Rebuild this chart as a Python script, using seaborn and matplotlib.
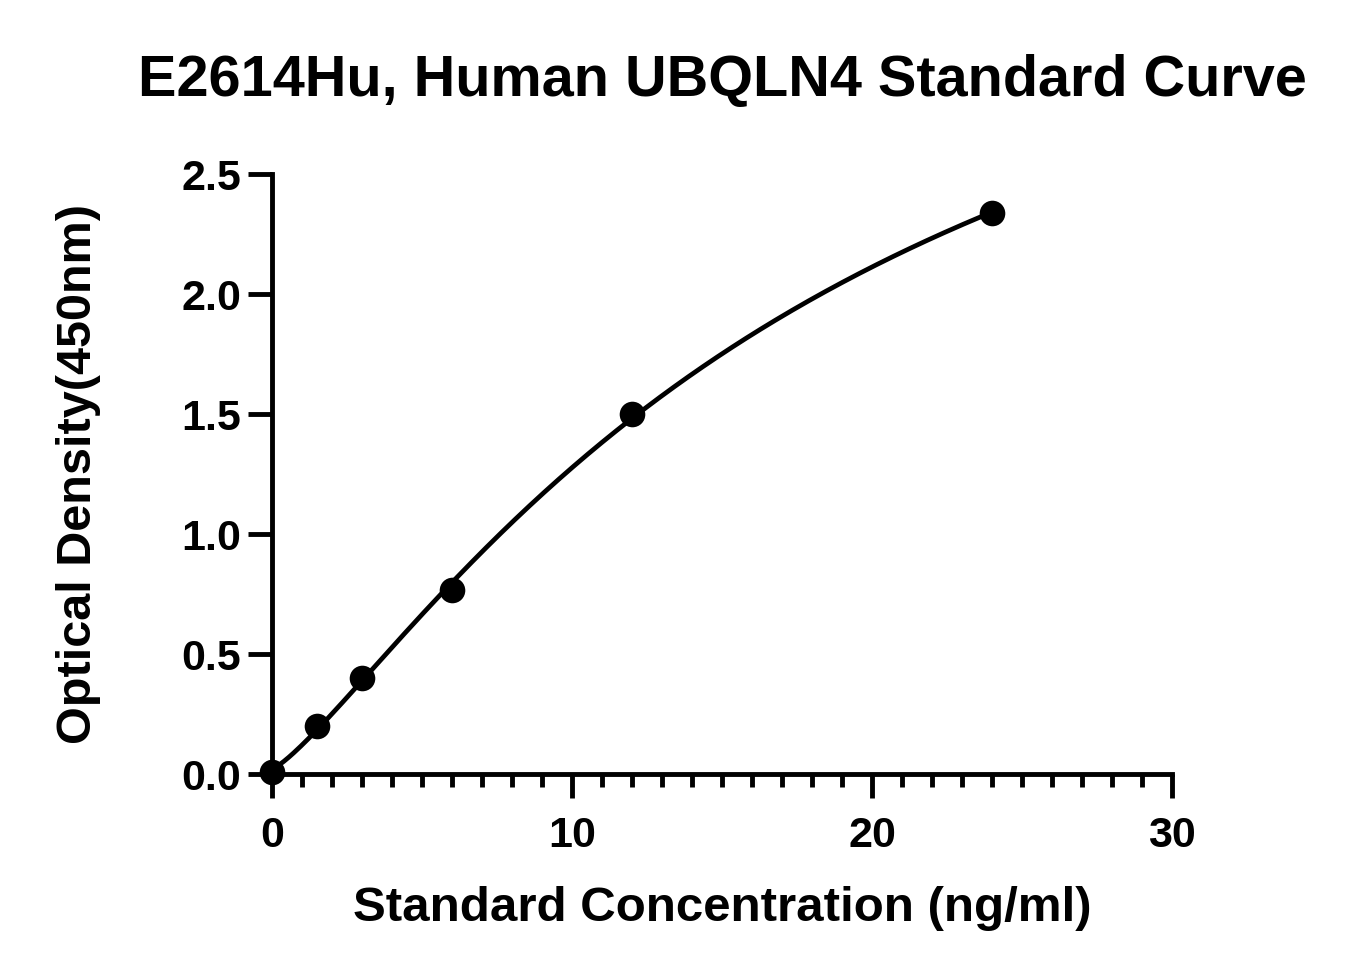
import numpy as np
import pandas as pd
import matplotlib
matplotlib.use("Agg")
import matplotlib.pyplot as plt
import seaborn as sns
from matplotlib.ticker import MultipleLocator

concentration = [0, 1.5, 3, 6, 12, 24]
od_450 = [0.01, 0.20, 0.40, 0.767, 1.50, 2.337]
title = "E2614Hu, Human UBQLN4 Standard Curve"
xlabel = "Standard Concentration (ng/ml)"
ylabel = "Optical Density(450nm)"

sns.set_theme(style="ticks")
plt.rcParams['font.family'] = ['Liberation Sans', 'DejaVu Sans']
plt.rcParams['font.weight'] = 'bold'

df = pd.DataFrame({"conc": concentration, "od": od_450})

# 4PL fit via simple Levenberg-Marquardt
x = np.array(concentration, float)
y = np.array(od_450, float)

def f4(p, xx):
    a, b, c, d = p
    return d + (a - d) / (1 + (np.maximum(xx, 1e-9) / c) ** b)

p = np.array([0.0, 1.2, 20.0, 4.0])
lam = 1e-2
def sse(p):
    return np.sum((f4(p, x) - y) ** 2)
for _ in range(2000):
    r = f4(p, x) - y
    J = np.zeros((len(x), 4))
    for k in range(4):
        dp = np.zeros(4); dp[k] = 1e-6 * max(1, abs(p[k]))
        J[:, k] = (f4(p + dp, x) - f4(p, x)) / dp[k]
    A = J.T @ J
    g = J.T @ r
    step = np.linalg.solve(A + lam * np.diag(np.diag(A) + 1e-12), -g)
    pn = p + step
    if pn[2] > 0 and np.all(np.isfinite(pn)) and sse(pn) < sse(p):
        p = pn; lam *= 0.5
    else:
        lam *= 3
xs = np.linspace(0, 24, 300)
fit = pd.DataFrame({"conc": xs, "od": f4(p, xs)})
if not np.all(np.isfinite(fit["od"])) or sse(p) > 0.01:
    c3 = np.polyfit(x, y, 3)
    fit["od"] = np.polyval(c3, xs)

fig = plt.figure(figsize=(13.53, 9.75), dpi=100)
ax = fig.add_axes([272/1353, 1-774/975, 900/1353, 600/975])

sns.lineplot(data=fit, x="conc", y="od", ax=ax, color="black", linewidth=3.4, clip_on=False)
sns.scatterplot(data=df, x="conc", y="od", ax=ax, color="black", s=340, edgecolor="black",
                linewidth=0, clip_on=False, zorder=5)

ax.set_xlim(0, 30)
ax.set_ylim(0, 2.5)
ax.xaxis.set_minor_locator(MultipleLocator(1))
ax.set_yticks([0, 0.5, 1.0, 1.5, 2.0, 2.5])
ax.set_yticklabels(["0.0", "0.5", "1.0", "1.5", "2.0", "2.5"])
ax.set_xticks([0, 10, 20, 30])
ax.set_xticklabels(["0", "10", "20", "30"])

for s in ["top", "right"]:
    ax.spines[s].set_visible(False)
for s in ["left", "bottom"]:
    ax.spines[s].set_linewidth(3.5)
    ax.spines[s].set_color("black")
ax.tick_params(axis="both", which="major", length=17, width=3.5, color="black",
               labelcolor="black")
ax.tick_params(axis="y", which="major", pad=5)
ax.tick_params(axis="x", which="major", pad=13)
ax.tick_params(axis="x", which="minor", length=9.5, width=3.5, color="black")
for lab in ax.get_xticklabels() + ax.get_yticklabels():
    lab.set_fontweight("bold")
    lab.set_fontsize(31)

ax.set_xlabel(xlabel, fontsize=35.5, fontweight="bold", labelpad=22, color="black")
ax.set_ylabel(ylabel, fontsize=35, fontweight="bold", labelpad=58, color="black")
ax.set_title(title, fontsize=41.5, fontweight="bold", pad=56, color="black")

fig.savefig("out.png", dpi=100, facecolor="white")
